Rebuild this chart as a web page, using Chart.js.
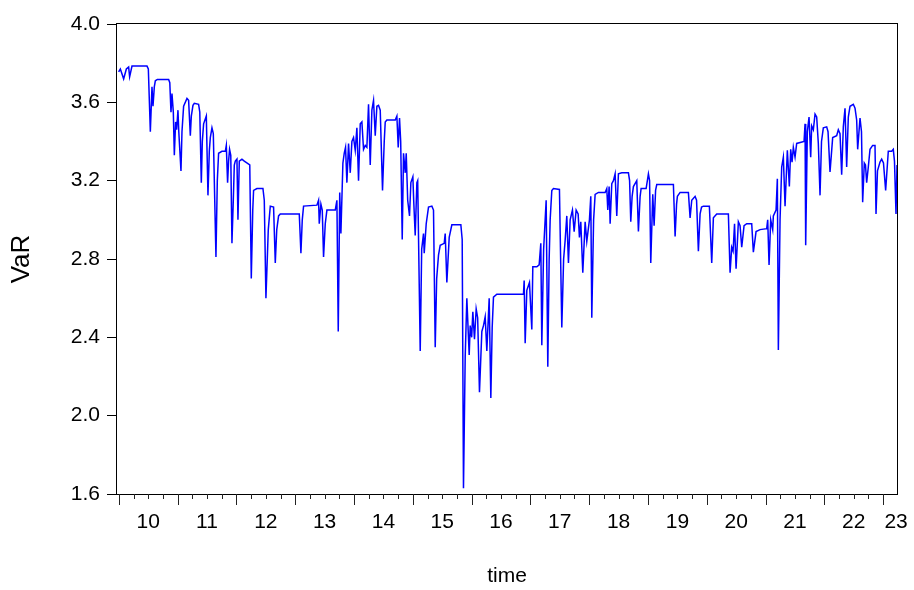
<!DOCTYPE html>
<html>

<head>
    <meta charset="utf-8">
    <title>VaR</title>
    <script src="https://cdn.jsdelivr.net/npm/chart.js@4.4.0/dist/chart.umd.min.js"></script>
    <style>
        body { margin: 0; background: #fff; }
    </style>
</head>

<body>
    <canvas id="myChart" width="914" height="590"></canvas>
    <script>
        // decimal years
        const dates = [
            2009.997, 2010.026, 2010.082, 2010.128, 2010.167, 2010.184, 2010.224, 2010.479, 2010.502, 2010.536,
            2010.564, 2010.581, 2010.604, 2010.621, 2010.655, 2010.847, 2010.867, 2010.887, 2010.904, 2010.927,
            2010.944, 2010.966, 2010.983, 2011.006, 2011.020, 2011.057, 2011.074, 2011.102, 2011.159, 2011.187,
            2011.216, 2011.233, 2011.261, 2011.284, 2011.357, 2011.377, 2011.403, 2011.420, 2011.442, 2011.488,
            2011.516, 2011.539, 2011.556, 2011.584, 2011.607, 2011.652, 2011.675, 2011.697, 2011.754, 2011.811,
            2011.828, 2011.850, 2011.867, 2011.884, 2011.904, 2011.924, 2011.947, 2011.964, 2011.981, 2012.009,
            2012.026, 2012.049, 2012.094, 2012.134, 2012.227, 2012.253, 2012.278, 2012.292, 2012.349, 2012.451,
            2012.474, 2012.502, 2012.542, 2012.576, 2012.632, 2012.661, 2012.686, 2012.717, 2012.746, 2013.069,
            2013.097, 2013.120, 2013.142, 2013.369, 2013.397, 2013.409, 2013.437, 2013.460, 2013.482, 2013.511,
            2013.539, 2013.681, 2013.709, 2013.732, 2013.757, 2013.777, 2013.811, 2013.834, 2013.856, 2013.879,
            2013.907, 2013.936, 2013.964, 2013.992, 2014.021, 2014.049, 2014.077, 2014.106, 2014.134, 2014.162,
            2014.191, 2014.219, 2014.247, 2014.276, 2014.304, 2014.332, 2014.361, 2014.389, 2014.417, 2014.446,
            2014.485, 2014.514, 2014.531, 2014.559, 2014.701, 2014.729, 2014.752, 2014.774, 2014.794, 2014.820,
            2014.842, 2014.871, 2014.888, 2014.913, 2014.944, 2014.967, 2015.001, 2015.015, 2015.041, 2015.069,
            2015.083, 2015.126, 2015.151, 2015.182, 2015.194, 2015.228, 2015.267, 2015.324, 2015.352, 2015.381,
            2015.406, 2015.437, 2015.466, 2015.534, 2015.551, 2015.579, 2015.619, 2015.664, 2015.817, 2015.840,
            2015.862, 2015.891, 2015.919, 2015.959, 2015.976, 2016.001, 2016.021, 2016.049, 2016.078, 2016.103,
            2016.134, 2016.174, 2016.202, 2016.231, 2016.259, 2016.299, 2016.327, 2016.350, 2016.372, 2016.429,
            2016.882, 2016.894, 2016.911, 2016.939, 2016.984, 2017.024, 2017.041, 2017.109, 2017.149, 2017.177,
            2017.194, 2017.225, 2017.268, 2017.296, 2017.319, 2017.336, 2017.364, 2017.392, 2017.494, 2017.534,
            2017.565, 2017.591, 2017.619, 2017.647, 2017.676, 2017.715, 2017.744, 2017.778, 2017.812, 2017.834,
            2017.857, 2017.891, 2017.931, 2017.959, 2018.004, 2018.027, 2018.044, 2018.075, 2018.101, 2018.157,
            2018.271, 2018.299, 2018.316, 2018.339, 2018.356, 2018.384, 2018.412, 2018.441, 2018.469, 2018.497,
            2018.554, 2018.667, 2018.687, 2018.707, 2018.730, 2018.752, 2018.809, 2018.837, 2018.866, 2018.883,
            2018.968, 2019.007, 2019.027, 2019.047, 2019.081, 2019.104, 2019.129, 2019.149, 2019.432, 2019.461,
            2019.486, 2019.500, 2019.546, 2019.687, 2019.716, 2019.744, 2019.801, 2019.826, 2019.857, 2019.886,
            2019.911, 2019.942, 2020.044, 2020.084, 2020.112, 2020.169, 2020.367, 2020.396, 2020.424, 2020.447,
            2020.472, 2020.498, 2020.537, 2020.566, 2020.594, 2020.634, 2020.679, 2020.764, 2020.792, 2020.838,
            2020.906, 2021.019, 2021.036, 2021.059, 2021.087, 2021.121, 2021.132, 2021.178, 2021.200, 2021.217,
            2021.246, 2021.274, 2021.302, 2021.331, 2021.370, 2021.404, 2021.427, 2021.450, 2021.472, 2021.501,
            2021.529, 2021.654, 2021.671, 2021.682, 2021.710, 2021.739, 2021.767, 2021.784, 2021.812, 2021.841,
            2021.869, 2021.897, 2021.926, 2021.951, 2021.982, 2022.039, 2022.062, 2022.096, 2022.141, 2022.209,
            2022.237, 2022.266, 2022.294, 2022.322, 2022.351, 2022.379, 2022.407, 2022.436, 2022.492, 2022.521,
            2022.549, 2022.566, 2022.606, 2022.631, 2022.651, 2022.679, 2022.699, 2022.719, 2022.747, 2022.776,
            2022.821, 2022.861, 2022.878, 2022.903, 2022.946, 2022.974, 2023.005, 2023.042, 2023.087, 2023.144,
            2023.172, 2023.192, 2023.218, 2023.235
        ];

        const varValues = [
            3.755, 3.77, 3.72, 3.77, 3.78, 3.73, 3.785, 3.785, 3.77, 3.45,
            3.68, 3.58, 3.68, 3.71, 3.717, 3.717, 3.70, 3.55, 3.645, 3.55,
            3.33, 3.50, 3.46, 3.56, 3.45, 3.25, 3.45, 3.58, 3.62, 3.61,
            3.43, 3.53, 3.585, 3.595, 3.59, 3.55, 3.19, 3.40, 3.49, 3.53,
            3.125, 3.35, 3.42, 3.47, 3.44, 2.81, 3.20, 3.34, 3.35, 3.35,
            3.38, 3.19, 3.30, 3.36, 3.33, 2.88, 3.10, 3.28, 3.30, 3.31,
            3.00, 3.30, 3.31, 3.30, 3.28, 2.70, 3.05, 3.15, 3.16, 3.16,
            3.10, 2.60, 2.95, 3.07, 3.065, 2.78, 2.95, 3.02, 3.03, 3.03,
            2.83, 3.00, 3.07, 3.075, 3.10, 2.98, 3.08, 3.05, 2.81, 2.98,
            3.05, 3.05, 3.10, 2.43, 3.14, 2.93, 3.29, 3.34, 3.37, 3.19,
            3.39, 3.24, 3.40, 3.42, 3.355, 3.47, 3.20, 3.49, 3.50, 3.36,
            3.38, 3.37, 3.59, 3.28, 3.56, 3.61, 3.43, 3.58, 3.585, 3.56,
            3.15, 3.40, 3.50, 3.51, 3.51, 3.53, 3.37, 3.52, 3.40, 2.90,
            3.34, 3.24, 3.34, 3.10, 3.02, 3.19, 3.22, 3.10, 2.92, 3.19,
            3.20, 2.33, 2.85, 2.93, 2.83, 2.98, 3.065, 3.07, 3.05, 2.35,
            2.70, 2.82, 2.87, 2.88, 2.93, 2.68, 2.91, 2.975, 2.975, 2.90,
            1.63, 2.30, 2.60, 2.31, 2.46, 2.40, 2.53, 2.39, 2.545, 2.50,
            2.12, 2.43, 2.46, 2.505, 2.33, 2.60, 2.09, 2.45, 2.605, 2.62,
            2.62, 2.69, 2.37, 2.64, 2.68, 2.44, 2.76, 2.76, 2.77, 2.88,
            2.36, 2.85, 3.10, 2.25, 2.80, 3.00, 3.15, 3.16, 3.155, 2.45,
            2.80, 2.895, 3.02, 2.78, 3.00, 3.05, 2.94, 3.05, 3.03, 2.91,
            2.99, 2.73, 2.99, 2.89, 3.00, 3.12, 2.50, 3.00, 3.13, 3.14,
            3.14, 3.16, 3.05, 3.17, 2.98, 3.185, 3.20, 3.235, 3.02, 3.235,
            3.24, 3.24, 3.20, 2.99, 3.12, 3.17, 3.20, 2.94, 3.12, 3.16,
            3.16, 3.235, 3.20, 2.78, 3.13, 2.97, 3.15, 3.18, 3.18, 2.915,
            3.08, 3.12, 3.14, 3.14, 3.01, 3.10, 3.12, 3.10, 2.84, 3.03,
            3.065, 3.07, 3.07, 2.78, 3.01, 3.03, 3.03, 2.73, 2.86, 2.84,
            2.98, 2.75, 2.99, 2.97, 2.86, 2.97, 2.98, 2.98, 2.835, 2.94,
            2.95, 2.955, 3.00, 2.77, 3.00, 2.95, 3.02, 3.05, 3.21, 2.335,
            3.00, 3.27, 3.32, 3.07, 3.355, 3.17, 3.36, 3.295, 3.37, 3.32,
            3.39, 3.40, 3.49, 2.87, 3.45, 3.525, 3.32, 3.48, 3.46, 3.54,
            3.525, 3.39, 3.125, 3.40, 3.47, 3.475, 3.45, 3.245, 3.42, 3.43,
            3.46, 3.44, 3.23, 3.475, 3.57, 3.27, 3.525, 3.58, 3.59, 3.57,
            3.51, 3.36, 3.52, 3.45, 3.09, 3.29, 3.28, 3.19, 3.27, 3.36,
            3.38, 3.38, 3.03, 3.25, 3.295, 3.31, 3.29, 3.15, 3.35, 3.35,
            3.36, 3.30, 3.03, 3.28
        ];

        // x tick labels sit in the middle of each year, the last one at the right edge
        const tickYears = [2010.5, 2011.5, 2012.5, 2013.5, 2014.5, 2015.5, 2016.5, 2017.5, 2018.5, 2019.5, 2020.5, 2021.5, 2022.5, 2023.22];
        const tickLabels = ['10', '11', '12', '13', '14', '15', '16', '17', '18', '19', '20', '21', '22', '23'];

        const FONT = '"Liberation Sans", Arial, sans-serif';
        Chart.defaults.font.family = FONT;
        Chart.defaults.color = '#000';

        // box around the plot + year / quarter tick marks on the time axis
        const framePlugin = {
            id: 'frame',
            afterDatasetsDraw(chart) {
                const { ctx, chartArea: a, scales: { x } } = chart;
                ctx.save();
                ctx.strokeStyle = '#000';
                ctx.lineWidth = 1;
                ctx.strokeRect(a.left - 0.5, a.top - 0.5, a.right - a.left + 1, a.bottom - a.top + 1);
                ctx.strokeStyle = '#222';
                for (let q = Math.ceil(x.min * 4) / 4; q <= x.max; q += 0.25) {
                    const px = Math.round(x.getPixelForValue(q)) + 0.5;
                    const len = (q % 1 === 0) ? 11 : 5;
                    ctx.beginPath();
                    ctx.moveTo(px, a.bottom);
                    ctx.lineTo(px, a.bottom + len);
                    ctx.stroke();
                }
                ctx.restore();
            }
        };

        const config = {
            type: 'line',
            data: {
                datasets: [{
                    label: 'VaR',
                    data: dates.map((d, i) => ({ x: d, y: varValues[i] })),
                    borderColor: '#0000ff',
                    borderWidth: 1.5,
                    pointRadius: 0,
                    tension: 0,
                    fill: false
                }]
            },
            options: {
                responsive: false,
                animation: false,
                layout: { padding: { top: 24, right: 17, left: 0, bottom: 0 } },
                plugins: {
                    legend: { display: false },
                    tooltip: { enabled: false }
                },
                scales: {
                    x: {
                        type: 'linear',
                        min: 2009.969,
                        max: 2023.235,
                        grid: { display: false, drawTicks: false },
                        border: { display: false },
                        afterBuildTicks: (scale) => {
                            scale.ticks = tickYears.map(v => ({ value: v }));
                        },
                        afterFit: (scale) => {
                            scale.height = 96;
                            scale.paddingLeft = 0;
                            scale.paddingRight = 0;
                        },
                        ticks: {
                            autoSkip: false,
                            maxRotation: 0,
                            minRotation: 0,
                            padding: 15.5,
                            font: { size: 21 },
                            callback: (value, index) => tickLabels[index]
                        },
                        title: {
                            display: true,
                            text: 'time',
                            font: { size: 21 },
                            padding: { top: 0, bottom: 1 }
                        }
                    },
                    y: {
                        min: 1.6,
                        max: 4.0,
                        grid: {
                            drawOnChartArea: false,
                            drawTicks: true,
                            tickLength: 10,
                            tickColor: '#000'
                        },
                        border: { display: false },
                        afterFit: (scale) => {
                            scale.width = 117;
                            scale.paddingTop = 0;
                            scale.paddingBottom = 0;
                        },
                        ticks: {
                            stepSize: 0.4,
                            padding: 7,
                            font: { size: 21 },
                            callback: (v) => v.toFixed(1)
                        },
                        title: {
                            display: true,
                            text: 'VaR',
                            font: { size: 26 },
                            padding: { top: 6, bottom: 0 }
                        }
                    }
                }
            },
            plugins: [framePlugin]
        };

        const myChart = new Chart(document.getElementById('myChart'), config);
    </script>
</body>

</html>
